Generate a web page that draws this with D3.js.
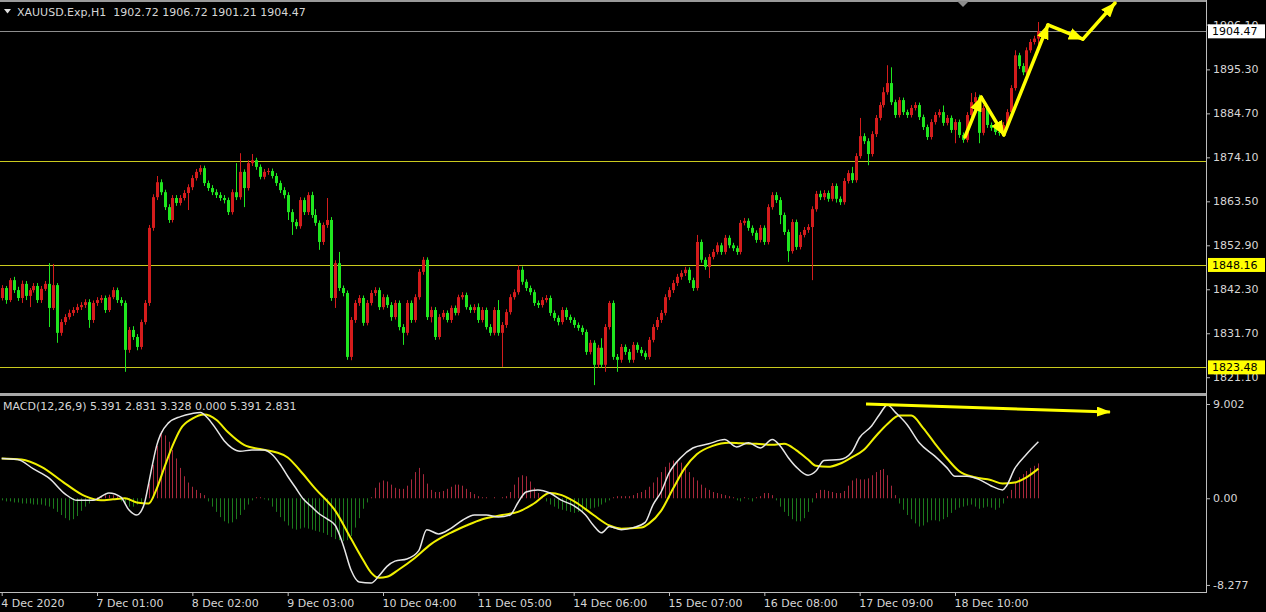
<!DOCTYPE html>
<html><head><meta charset="utf-8">
<script src="https://cdn.jsdelivr.net/npm/d3@7/dist/d3.min.js"></script>
<style>
html,body{margin:0;padding:0;background:#000;overflow:hidden}
svg{display:block}
</style></head><body>
<svg id="c" width="1266" height="612"></svg>
<script>
// ---------------- DATA ----------------
const symbolTitle = "XAUUSD.Exp,H1";
const lastOHLC = [1902.72, 1906.72, 1901.21, 1904.47];
const macdTitle = "MACD(12,26,9) 5.391 2.831 3.328 0.000 5.391 2.831";

const openP = [1840.2,
1842.6,1839.7,1844.5,1842.1,1840.2,1843.6,1840.7,1842.1,1843.1,1839.7,
1842.4,1843.6,1837.8,1843.3,1831.8,1834.4,1835.6,1836.6,1837.3,1838.0,
1838.5,1839.2,1834.9,1839.0,1839.7,1840.2,1837.3,1840.4,1842.1,1839.7,
1839.0,1827.7,1832.5,1830.8,1828.4,1834.4,1839.0,1857.1,1864.5,1868.1,
1865.7,1862.1,1859.0,1864.3,1863.1,1864.3,1865.5,1866.9,1869.1,1870.6,
1871.5,1867.9,1866.7,1865.7,1865.0,1864.3,1863.8,1860.9,1865.7,1864.5,
1870.6,1866.7,1872.7,1873.4,1871.8,1869.4,1870.6,1870.8,1869.6,1867.9,
1866.2,1865.0,1860.9,1858.5,1857.5,1863.8,1860.9,1865.0,1860.2,1858.3,
1853.7,1857.8,1859.0,1840.2,1848.6,1842.6,1841.4,1826.0,1834.9,1839.0,
1840.2,1834.2,1839.0,1841.4,1842.1,1838.0,1840.4,1838.5,1835.6,1839.0,
1833.2,1831.8,1839.0,1834.9,1840.4,1846.5,1849.4,1835.6,1837.3,1830.8,
1835.6,1836.6,1834.9,1837.8,1836.6,1840.4,1840.9,1838.0,1837.3,1838.0,
1834.9,1837.3,1833.2,1831.8,1837.3,1831.8,1833.7,1836.8,1840.4,1841.6,
1847.0,1844.1,1842.6,1841.6,1839.0,1838.5,1839.7,1840.2,1836.6,1835.4,
1834.4,1837.3,1835.6,1834.9,1833.7,1833.0,1832.0,1827.2,1829.4,1824.1,
1828.2,1824.1,1833.2,1839.0,1826.0,1825.3,1828.4,1827.2,1825.3,1828.9,
1827.7,1826.9,1826.0,1830.1,1833.2,1834.9,1836.6,1840.4,1842.1,1843.8,
1845.3,1846.2,1847.0,1844.5,1842.6,1853.7,1849.4,1847.7,1850.1,1851.3,
1852.9,1851.3,1854.7,1852.9,1852.2,1851.3,1858.3,1858.8,1857.1,1855.9,
1854.2,1857.1,1853.7,1862.1,1865.0,1863.8,1860.2,1856.1,1851.5,1858.5,
1852.5,1855.4,1856.6,1857.3,1861.6,1865.3,1864.5,1865.5,1864.1,1867.2,
1864.1,1863.3,1868.4,1870.3,1868.6,1874.4,1879.2,1878.0,1874.9,1879.7,
1883.6,1886.7,1889.8,1892.0,1887.4,1884.3,1887.9,1885.0,1884.3,1886.0,
1886.7,1883.8,1881.4,1879.0,1882.6,1884.3,1885.0,1882.4,1883.6,1880.7,
1882.6,1879.5,1878.3,1884.3,1887.4,1888.6,1880.0,1886.0,1881.9,1881.2,
1880.2,1880.0,1881.9,1885.0,1890.8,1898.7,1896.1,1894.6,1899.9,1901.9,
1902.72];

const closeP = [
1842.6,1839.7,1844.5,1842.1,1840.2,1843.6,1840.7,1842.1,1843.1,1839.7,
1842.4,1843.6,1837.8,1843.3,1831.8,1834.4,1835.6,1836.6,1837.3,1838.0,
1838.5,1839.2,1834.9,1839.0,1839.7,1840.2,1837.3,1840.4,1842.1,1839.7,
1839.0,1827.7,1832.5,1830.8,1828.4,1834.4,1839.0,1857.1,1864.5,1868.1,
1865.7,1862.1,1859.0,1864.3,1863.1,1864.3,1865.5,1866.9,1869.1,1870.6,
1871.5,1867.9,1866.7,1865.7,1865.0,1864.3,1863.8,1860.9,1865.7,1864.5,
1870.6,1866.7,1872.7,1873.4,1871.8,1869.4,1870.6,1870.8,1869.6,1867.9,
1866.2,1865.0,1860.9,1858.5,1857.5,1863.8,1860.9,1865.0,1860.2,1858.3,
1853.7,1857.8,1859.0,1840.2,1848.6,1842.6,1841.4,1826.0,1834.9,1839.0,
1840.2,1834.2,1839.0,1841.4,1842.1,1838.0,1840.4,1838.5,1835.6,1839.0,
1833.2,1831.8,1839.0,1834.9,1840.4,1846.5,1849.4,1835.6,1837.3,1830.8,
1835.6,1836.6,1834.9,1837.8,1836.6,1840.4,1840.9,1838.0,1837.3,1838.0,
1834.9,1837.3,1833.2,1831.8,1837.3,1831.8,1833.7,1836.8,1840.4,1841.6,
1847.0,1844.1,1842.6,1841.6,1839.0,1838.5,1839.7,1840.2,1836.6,1835.4,
1834.4,1837.3,1835.6,1834.9,1833.7,1833.0,1832.0,1827.2,1829.4,1824.1,
1828.2,1824.1,1833.2,1839.0,1826.0,1825.3,1828.4,1827.2,1825.3,1828.9,
1827.7,1826.9,1826.0,1830.1,1833.2,1834.9,1836.6,1840.4,1842.1,1843.8,
1845.3,1846.2,1847.0,1844.5,1842.6,1853.7,1849.4,1847.7,1850.1,1851.3,
1852.9,1851.3,1854.7,1852.9,1852.2,1851.3,1858.3,1858.8,1857.1,1855.9,
1854.2,1857.1,1853.7,1862.1,1865.0,1863.8,1860.2,1856.1,1851.5,1858.5,
1852.5,1855.4,1856.6,1857.3,1861.6,1865.3,1864.5,1865.5,1864.1,1867.2,
1864.1,1863.3,1868.4,1870.3,1868.6,1874.4,1879.2,1878.0,1874.9,1879.7,
1883.6,1886.7,1889.8,1892.0,1887.4,1884.3,1887.9,1885.0,1884.3,1886.0,
1886.7,1883.8,1881.4,1879.0,1882.6,1884.3,1885.0,1882.4,1883.6,1880.7,
1882.6,1879.5,1878.3,1884.3,1887.4,1888.6,1880.0,1886.0,1881.9,1881.2,
1880.2,1880.0,1881.9,1885.0,1890.8,1898.7,1896.1,1894.6,1899.9,1901.9,
1902.72,1904.47];

const highP = [
1843.3,1843.1,1845.0,1845.3,1842.9,1844.4,1844.3,1842.6,1843.8,1843.8,
1843.1,1844.3,1848.6,1848.4,1843.8,1835.1,1836.3,1837.4,1838.0,1838.8,
1839.2,1839.9,1839.9,1839.6,1840.4,1840.9,1840.8,1841.0,1842.8,1842.7,
1840.4,1839.6,1833.2,1833.4,1831.5,1835.0,1839.7,1857.8,1865.2,1869.6,
1868.8,1866.3,1862.8,1865.0,1865.0,1865.0,1866.2,1867.6,1869.8,1871.3,
1872.2,1872.1,1868.5,1867.4,1866.4,1865.7,1865.0,1864.4,1866.4,1872.7,
1875.1,1871.2,1873.4,1874.9,1874.0,1872.4,1871.3,1871.5,1871.4,1870.3,
1868.5,1866.9,1865.7,1861.6,1859.2,1864.5,1864.4,1865.7,1865.8,1861.6,
1858.9,1858.4,1864.3,1859.7,1849.3,1851.3,1843.2,1842.0,1835.6,1839.7,
1840.9,1840.8,1839.7,1842.1,1842.8,1842.7,1841.1,1841.0,1839.2,1839.7,
1839.6,1833.9,1839.7,1839.6,1841.1,1847.2,1850.1,1850.0,1838.1,1838.0,
1836.3,1837.3,1837.2,1838.4,1838.4,1841.0,1841.6,1841.5,1838.6,1838.7,
1838.9,1838.0,1837.9,1833.9,1838.0,1839.7,1834.4,1837.5,1841.1,1842.3,
1848.1,1847.8,1844.7,1843.2,1842.2,1839.6,1840.4,1840.9,1840.8,1837.2,
1836.0,1838.0,1837.9,1836.2,1835.5,1834.3,1833.6,1832.6,1830.1,1830.0,
1828.9,1830.5,1833.9,1839.5,1839.6,1826.7,1829.1,1829.0,1827.9,1829.6,
1829.5,1828.4,1827.5,1830.8,1833.9,1835.6,1837.3,1841.1,1842.8,1844.5,
1846.0,1846.9,1847.7,1847.6,1845.1,1855.4,1854.3,1850.0,1850.8,1852.0,
1853.6,1853.5,1855.4,1855.3,1853.5,1852.8,1859.0,1859.5,1859.4,1857.7,
1856.5,1857.8,1857.7,1862.8,1865.7,1865.7,1864.5,1860.8,1856.7,1859.2,
1859.1,1856.1,1857.3,1858.0,1862.3,1866.0,1866.1,1866.2,1866.1,1867.9,
1867.8,1864.7,1869.1,1871.0,1871.8,1875.1,1883.6,1879.9,1878.7,1880.4,
1884.3,1887.4,1891.0,1896.3,1895.8,1888.0,1888.6,1888.5,1885.6,1886.7,
1887.4,1887.3,1884.4,1882.0,1883.3,1885.0,1885.7,1886.6,1884.3,1884.2,
1883.3,1883.2,1880.1,1885.0,1889.6,1889.8,1889.2,1886.7,1886.6,1882.5,
1881.8,1880.8,1882.6,1885.7,1891.5,1899.9,1899.3,1896.8,1900.6,1902.6,
1903.4,1906.72];

const lowP = [
1839.6,1838.8,1839.2,1841.4,1839.5,1839.0,1839.7,1838.0,1841.5,1839.0,
1839.0,1841.9,1833.2,1837.3,1829.4,1831.1,1833.7,1835.0,1835.9,1836.6,
1837.3,1837.8,1833.0,1834.2,1838.3,1839.0,1836.6,1836.8,1839.9,1839.0,
1838.3,1822.4,1827.0,1830.1,1827.6,1827.8,1833.8,1838.3,1856.4,1863.8,
1865.0,1861.4,1858.3,1858.4,1862.4,1862.5,1863.7,1861.4,1866.2,1868.5,
1869.9,1867.2,1866.0,1865.0,1864.3,1863.6,1863.0,1860.2,1860.3,1863.8,
1863.9,1862.1,1866.1,1872.0,1871.1,1868.8,1868.8,1869.9,1869.0,1867.2,
1865.5,1864.2,1859.0,1855.4,1856.8,1856.9,1860.2,1860.2,1859.5,1857.6,
1851.8,1853.0,1857.1,1839.5,1837.8,1841.9,1840.6,1825.3,1825.2,1834.2,
1838.3,1833.5,1833.6,1838.4,1840.7,1837.3,1837.4,1837.8,1834.7,1835.0,
1832.4,1828.9,1831.2,1834.2,1834.3,1839.8,1845.8,1834.9,1834.3,1830.1,
1830.2,1835.0,1834.3,1834.2,1836.0,1836.0,1839.8,1837.4,1836.6,1836.6,
1834.2,1834.3,1832.6,1831.1,1831.2,1831.1,1823.6,1833.0,1836.2,1839.8,
1841.0,1843.4,1841.9,1840.9,1838.3,1837.8,1837.9,1839.1,1835.9,1834.7,
1833.6,1833.8,1834.9,1834.2,1833.0,1832.3,1831.3,1826.5,1826.6,1819.2,
1823.4,1823.4,1822.4,1832.6,1825.3,1822.4,1824.6,1826.5,1824.6,1824.6,
1827.0,1826.2,1825.3,1825.4,1829.5,1832.5,1834.2,1836.0,1839.7,1841.4,
1843.1,1844.6,1845.5,1843.8,1841.9,1842.0,1848.7,1847.0,1845.0,1849.5,
1850.7,1850.6,1850.7,1852.2,1851.5,1850.6,1850.7,1857.7,1856.4,1855.2,
1853.5,1853.6,1853.0,1853.1,1861.5,1863.1,1858.0,1855.4,1848.9,1850.9,
1851.8,1851.9,1854.8,1855.9,1844.5,1861.0,1863.8,1863.8,1863.4,1863.5,
1863.2,1862.6,1862.7,1867.8,1867.9,1868.0,1873.8,1877.3,1872.2,1874.3,
1879.0,1883.0,1886.1,1889.2,1886.7,1883.6,1883.7,1884.3,1883.6,1883.7,
1885.4,1883.1,1880.7,1878.3,1878.4,1882.0,1883.7,1881.7,1881.8,1880.0,
1877.5,1878.8,1877.6,1877.7,1883.7,1886.8,1877.5,1879.4,1881.2,1880.5,
1879.5,1879.3,1879.4,1881.3,1884.4,1890.2,1895.4,1893.9,1894.0,1899.3,
1901.3,1901.21];

// MACD histogram, one value per bar
const histV = [
-0.2,-0.3,-0.3,-0.4,
-0.4,-0.5,-0.5,-0.5,-0.6,-0.6,-0.6,-0.7,-0.8,
-1.0,-1.3,-1.6,-1.9,-2.1,-2.0,-1.7,
-1.2,-0.8,-0.5,-0.2,
0.1,0.2,0.3,0.3,0.3,0.2,
-0.3,-0.6,-0.8,-0.8,-0.6,-0.4,0.1,
1.4,3.2,5.0,6.4,6.0,5.4,4.6,3.8,
2.9,2.1,1.5,1.1,0.8,0.5,0.3,
-0.3,-0.8,-1.3,-1.8,-2.2,-2.4,-2.3,-2.0,-1.6,-1.1,-0.6,-0.2,
0.1,0.1,-0.1,-0.2,
-0.8,-1.3,-1.8,-2.2,-2.6,-2.9,-3.0,-2.9,
-2.8,-2.9,-3.0,-3.1,-3.2,-3.3,-3.5,-3.7,-3.9,-4.0,-4.1,-4.0,-3.6,-2.8,
-1.9,-1.0,-0.4,0.1,
1.0,1.5,1.7,1.6,1.3,1.0,0.9,0.9,1.2,1.8,2.5,2.9,
2.3,1.4,0.8,0.6,0.6,0.7,0.9,
1.1,1.3,1.3,1.2,0.9,0.6,0.4,0.2,0.1,
0.1,0.0,0.1,0.0,0.1,0.2,0.6,
1.3,2.0,2.2,2.1,1.6,1.0,0.5,
0.1,-0.3,-0.6,-0.8,-1.0,
-1.1,-1.2,-1.3,-1.4,-1.3,-1.2,-1.1,-1.0,-0.9,-0.8,-0.6,-0.4,
-0.2,0.1,0.2,0.2,0.2,0.2,0.3,
0.5,0.6,0.8,1.1,1.5,2.0,2.5,
3.0,3.4,3.6,3.6,3.4,3.0,
2.5,2.0,1.7,1.3,1.0,
0.8,0.6,0.5,0.4,0.3,0.2,0.1,
-0.2,-0.3,0.1,-0.1,-0.3,0.1,0.2,
0.5,0.5,0.3,-0.2,-0.8,
-1.3,-1.7,-2.0,-2.2,-2.2,-1.9,-1.3,
-0.4,0.5,0.8,0.8,0.7,0.6,0.5,
0.5,0.7,1.2,1.7,1.9,1.8,1.8,1.9,2.2,
2.5,2.7,2.8,2.2,1.2,0.3,
-0.5,-1.1,-1.6,-2.0,-2.4,-2.7,-2.6,
-2.3,-2.1,-2.1,-2.2,-2.0,-1.8,-1.4,-1.1,-0.9,
-0.8,-0.7,-0.6,-0.8,-1.0,-0.9,-0.8,-0.9,-1.1,-0.9,-0.5,
0.2,0.8,1.5,2.0,2.3,2.6,2.9,3.1,3.328];

// MACD main line (white), read at these bars
const macdBars = [0,4,8,12,16,19,23,27,30,32,34,35,36,37,38,39,40,42,45,48,50,52,54,56,58,60,63,66,68,70,72,74,76,78,80,82,84,86,88,90,93,95,97,99,102,105,107,110,113,116,119,122,125,128,130,132,135,138,141,144,147,149,151,153,156,159,162,164,166,168,171,174,178,182,185,188,191,194,196,198,200,203,205,207,211,214,216,219,221,223,225,228,231,235,238,240,243,246,249,252,253,255,258,261];
const macdVals = [3.8,3.7,2.8,1.9,0.4,-0.2,-0.2,0.5,0.1,-1.1,-1.6,-1.3,-0.4,1.4,3.3,5.0,6.1,7.2,7.8,8.1,8.2,7.6,6.6,5.5,4.8,4.5,4.6,4.6,4.2,3.3,2.1,1.0,-0.1,-0.8,-1.5,-2.0,-2.6,-4.5,-6.9,-8.0,-8.1,-7.4,-6.5,-6.0,-5.8,-5.0,-3.0,-3.4,-2.9,-2.1,-1.6,-1.6,-1.8,-1.6,-0.4,0.6,0.8,0.5,-0.2,-0.7,-1.6,-2.6,-3.3,-2.7,-3.0,-2.8,-2.3,-0.6,0.6,2.4,3.9,4.8,5.2,5.6,4.9,5.3,4.8,5.6,5.0,3.9,3.0,2.2,2.6,3.6,3.7,4.4,5.8,6.9,8.0,8.9,8.2,7.0,5.3,4.0,2.9,2.1,2.1,1.8,1.2,0.8,1.2,2.8,4.2,5.391];
// Signal line (yellow)
const sigBars = [0,5,10,16,21,25,28,31,34,37,39,41,43,45,48,51,54,57,61,65,69,72,75,79,84,88,91,93,95,97,100,104,108,113,117,121,126,130,134,138,141,145,149,153,156,161,163,166,169,172,175,179,183,186,190,194,197,200,203,205,208,211,214,217,220,223,226,229,232,235,238,241,245,249,252,255,258,261];
const sigVals = [3.8,3.7,3.0,1.4,0.2,-0.2,-0.1,0.0,-0.4,-0.5,0.9,3.0,5.0,6.6,7.6,8.0,7.5,6.3,5.1,4.7,4.4,3.9,2.7,0.9,-1.2,-3.9,-5.9,-7.1,-7.6,-7.5,-6.8,-5.7,-4.4,-3.3,-2.6,-2.0,-1.6,-1.3,-0.5,0.5,0.3,-0.5,-1.6,-2.6,-2.9,-2.8,-2.4,-1.2,0.9,2.9,4.2,5.0,5.3,5.25,5.2,5.1,5.2,4.6,3.7,3.1,3.0,3.3,3.9,4.6,5.9,7.1,7.9,7.9,6.7,5.2,3.8,2.6,2.0,1.75,1.4,1.5,2.0,2.831];

// axes
const dateLabels = ["4 Dec 2020","7 Dec 01:00","8 Dec 02:00","9 Dec 03:00","10 Dec 04:00","11 Dec 05:00","14 Dec 06:00","15 Dec 07:00","16 Dec 08:00","17 Dec 09:00","18 Dec 10:00"];
const dateBars = [0,24,48,72,96,120,144,168,192,216,240];
const priceTicks = [1906.10,1895.30,1884.70,1874.10,1863.50,1852.90,1842.30,1831.70,1821.10];
const macdTicks = [9.002, 0, -8.277];
const macdTickLabels = ["9.002","0.00","-8.277"];

// horizontal levels
const levelLines = [1873.2, 1848.16, 1823.48];
const levelLabels = [null, "1848.16", "1823.48"];
const bidPrice = 1904.47;

// hand-drawn arrows (bar index, price) and (bar index, macd value)
const zigBars   = [242.5, 246.6, 252.3, 263.4, 272.2, 280.3];
const zigPrices = [1879.0, 1888.6, 1879.5, 1906.0, 1902.6, 1911.3];
const macdArrowBars = [217.6, 279];
const macdArrowVals = [9.0, 8.24];

// ---------------- CHART ----------------
const W = 1266, H = 612;
const axisX = 1206;
const mainTop = 3, mainBottom = 393, macdTop = 397, macdBottom = 592;
const FONT = "DejaVu Sans, sans-serif";
const txtCol = "#d6d6d6";
const upCol = "#d41c1c", dnCol = "#1fe61f";

const svg = d3.select("#c");
svg.append("rect").attr("width", W).attr("height", H).attr("fill", "#000");

const x = d3.scaleLinear().domain([0, 261]).range([1.7, 1038.4]);
const y = d3.scaleLinear().domain([1817.3, 1911.3]).range([mainBottom, mainTop]);
const ym = d3.scaleLinear().domain([-8.95, 9.67]).range([macdBottom, macdTop]);

const defs = svg.append("defs");
defs.append("clipPath").attr("id", "clipMain").append("rect")
  .attr("x", 0).attr("y", mainTop).attr("width", axisX).attr("height", mainBottom - mainTop);
defs.append("clipPath").attr("id", "clipMacd").append("rect")
  .attr("x", 0).attr("y", macdTop).attr("width", axisX).attr("height", macdBottom - macdTop);
function mk(id, w, h) {
  defs.append("marker").attr("id", id).attr("markerUnits", "userSpaceOnUse")
    .attr("viewBox", `0 0 ${w} ${h}`).attr("markerWidth", w).attr("markerHeight", h)
    .attr("refX", w - 1).attr("refY", h / 2).attr("orient", "auto")
    .append("path").attr("d", `M0,0 L${w},${h/2} L0,${h} Z`).attr("fill", "#ffff00");
}
mk("arrBig", 15, 12);
mk("arrSmall", 14, 10);

// frame lines
svg.append("line").attr("x1", 0).attr("x2", axisX).attr("y1", 1).attr("y2", 1)
  .attr("stroke", "#9a9a9a").attr("stroke-width", 2);
svg.append("rect").attr("x", 0).attr("y", 393).attr("width", axisX).attr("height", 3).attr("fill", "#a8a8a8");
svg.append("line").attr("x1", 0).attr("x2", axisX).attr("y1", macdBottom + 0.5).attr("y2", macdBottom + 0.5)
  .attr("stroke", "#bdbdbd");
svg.append("line").attr("x1", axisX + 0.5).attr("x2", axisX + 0.5).attr("y1", 0).attr("y2", macdBottom + 1)
  .attr("stroke", "#bdbdbd");
// chart-shift marker
svg.append("path").attr("d", "M957,1 L969,1 L963,7 Z").attr("fill", "#8c8c8c");

// ---- main panel
const gMain = svg.append("g").attr("clip-path", "url(#clipMain)");
gMain.selectAll("line.lvl").data(levelLines).join("line").attr("class", "lvl")
  .attr("x1", 0).attr("x2", axisX)
  .attr("y1", d => Math.round(y(d)) + 0.5).attr("y2", d => Math.round(y(d)) + 0.5)
  .attr("stroke", "#caca1e").attr("stroke-width", 1);
gMain.append("line").attr("x1", 0).attr("x2", axisX)
  .attr("y1", Math.round(y(bidPrice)) + 0.5).attr("y2", Math.round(y(bidPrice)) + 0.5)
  .attr("stroke", "#8e8e8e");

const bars = d3.range(closeP.length).map(i => ({i, o: openP[i], h: highP[i], l: lowP[i], c: closeP[i]}));
const gC = gMain.append("g");
gC.selectAll("line.wick").data(bars).join("line").attr("class", "wick")
  .attr("x1", d => Math.round(x(d.i)) + 0.5).attr("x2", d => Math.round(x(d.i)) + 0.5)
  .attr("y1", d => y(d.h)).attr("y2", d => y(d.l))
  .attr("stroke", d => d.c >= d.o ? upCol : dnCol).attr("stroke-width", 1);
gC.selectAll("rect.body").data(bars).join("rect").attr("class", "body")
  .attr("x", d => Math.round(x(d.i)) - 1).attr("width", 3)
  .attr("y", d => Math.min(y(d.o), y(d.c)))
  .attr("height", d => Math.max(1, Math.abs(y(d.o) - y(d.c))))
  .attr("fill", d => d.c >= d.o ? upCol : dnCol);

// ---- MACD panel
const gM = svg.append("g").attr("clip-path", "url(#clipMacd)");
gM.selectAll("line.hist").data(histV).join("line").attr("class", "hist")
  .attr("x1", (d, i) => Math.round(x(i)) + 0.5).attr("x2", (d, i) => Math.round(x(i)) + 0.5)
  .attr("y1", ym(0)).attr("y2", d => ym(d))
  .attr("stroke", d => d >= 0 ? "#a8283c" : "#1c7a1c").attr("stroke-width", 1);
const lineGen = d3.line().x(d => x(d[0])).y(d => ym(d[1])).curve(d3.curveMonotoneX);
gM.append("path").datum(sigBars.map((b, k) => [b, sigVals[k]])).attr("d", lineGen)
  .attr("fill", "none").attr("stroke", "#f0f000").attr("stroke-width", 2);
gM.append("path").datum(macdBars.map((b, k) => [b, macdVals[k]])).attr("d", lineGen)
  .attr("fill", "none").attr("stroke", "#e6e6e6").attr("stroke-width", 1.5);

// ---- annotations (arrows)
const gA = svg.append("g");
for (let k = 0; k < zigBars.length - 1; k++) {
  gA.append("line")
    .attr("x1", x(zigBars[k])).attr("y1", y(zigPrices[k]))
    .attr("x2", x(zigBars[k + 1])).attr("y2", y(zigPrices[k + 1]))
    .attr("stroke", "#ffff00").attr("stroke-width", 3.5).attr("stroke-linecap", "round")
    .attr("marker-end", "url(#arrBig)");
}
gA.append("line")
  .attr("x1", x(macdArrowBars[0])).attr("y1", ym(macdArrowVals[0]))
  .attr("x2", x(macdArrowBars[1])).attr("y2", ym(macdArrowVals[1]))
  .attr("stroke", "#ffff00").attr("stroke-width", 3)
  .attr("marker-end", "url(#arrSmall)");

// ---- price axis
const gp = svg.append("g").attr("transform", `translate(${axisX},0)`)
  .call(d3.axisRight(y).tickValues(priceTicks).tickSize(4).tickPadding(3).tickFormat(d3.format(".2f")));
gp.select(".domain").remove();
gp.attr("font-family", FONT).attr("font-size", 11);
gp.selectAll("line").attr("stroke", "#bdbdbd");
gp.selectAll("text").attr("fill", txtCol);

// bid box
const bidY = y(bidPrice);
svg.append("rect").attr("x", axisX + 2).attr("y", bidY - 7).attr("width", 57).attr("height", 14).attr("fill", "#ffffff");
svg.append("text").attr("x", axisX + 6).attr("y", bidY).attr("dy", "0.36em")
  .attr("font-family", FONT).attr("font-size", 11).attr("fill", "#000").text(d3.format(".2f")(bidPrice));
// level boxes
levelLines.forEach((p, k) => {
  if (!levelLabels[k]) return;
  const yy = y(p);
  svg.append("rect").attr("x", axisX + 2).attr("y", yy - 7).attr("width", 57).attr("height", 14).attr("fill", "#ffff00");
  svg.append("text").attr("x", axisX + 6).attr("y", yy).attr("dy", "0.36em")
    .attr("font-family", FONT).attr("font-size", 11).attr("fill", "#000").text(levelLabels[k]);
});

// ---- MACD axis
const gma = svg.append("g").attr("transform", `translate(${axisX},0)`)
  .call(d3.axisRight(ym).tickValues(macdTicks).tickSize(4).tickPadding(3).tickFormat((d, i) => macdTickLabels[i]));
gma.select(".domain").remove();
gma.attr("font-family", FONT).attr("font-size", 11);
gma.selectAll("line").attr("stroke", "#bdbdbd");
gma.selectAll("text").attr("fill", txtCol);

// ---- date axis
const gd = svg.append("g").attr("transform", `translate(0,${macdBottom})`)
  .call(d3.axisBottom(x).tickValues(dateBars).tickSize(4).tickPadding(3).tickFormat((d, i) => dateLabels[i]));
gd.select(".domain").remove();
gd.attr("font-family", FONT).attr("font-size", 11);
gd.selectAll("line").attr("stroke", "#bdbdbd");
gd.selectAll("text").attr("fill", txtCol).attr("text-anchor", "start").attr("x", -1);

// ---- titles
svg.append("path").attr("d", "M4,9 L11,9 L7.5,13.5 Z").attr("fill", "#e0e0e0");
svg.append("text").attr("x", 17).attr("y", 16).attr("font-family", FONT).attr("font-size", 11)
  .attr("fill", txtCol).style("white-space", "pre")
  .text(symbolTitle + "  " + lastOHLC.map(d3.format(".2f")).join(" "));
svg.append("text").attr("x", 3).attr("y", 410).attr("font-family", FONT).attr("font-size", 11)
  .attr("fill", txtCol).text(macdTitle);
</script>
</body></html>
